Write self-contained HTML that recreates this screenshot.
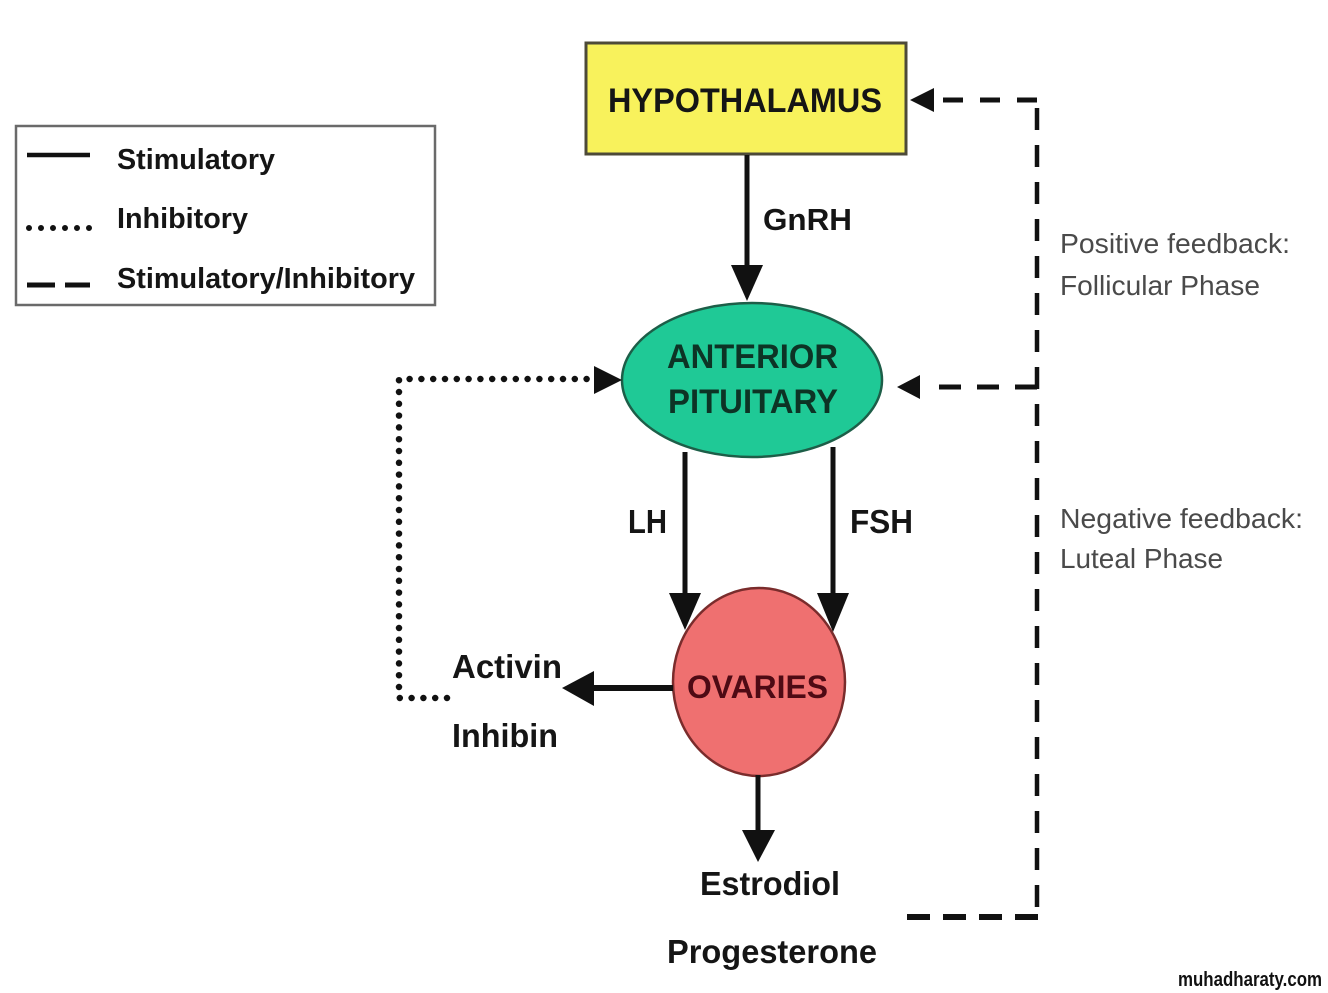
<!DOCTYPE html>
<html>
<head>
<meta charset="utf-8">
<style>
  html,body{margin:0;padding:0;background:#fff;}
  svg{display:block;}
  .b{font-family:"Liberation Sans",Arial,sans-serif;font-weight:bold;fill:#151515;}
  .r{font-family:"Liberation Sans",Arial,sans-serif;font-weight:normal;fill:#4a4a4a;}
</style>
</head>
<body>
<svg width="1328" height="993" viewBox="0 0 1328 993" xmlns="http://www.w3.org/2000/svg">
  <rect x="0" y="0" width="1328" height="993" fill="#ffffff"/>

  <!-- Legend -->
  <rect x="16" y="126" width="419" height="179" fill="#fff" stroke="#6a6a6a" stroke-width="2.5"/>
  <line x1="27" y1="155" x2="90" y2="155" stroke="#111" stroke-width="4.5"/>
  <line x1="29" y1="228" x2="90" y2="228" stroke="#111" stroke-width="6" stroke-linecap="round" stroke-dasharray="0 12"/>
  <line x1="27" y1="285" x2="55" y2="285" stroke="#111" stroke-width="5"/>
  <line x1="65" y1="285" x2="90" y2="285" stroke="#111" stroke-width="5"/>
  <text class="b" x="117" y="169" font-size="29" textLength="158" lengthAdjust="spacingAndGlyphs">Stimulatory</text>
  <text class="b" x="117" y="228" font-size="29" textLength="131" lengthAdjust="spacingAndGlyphs">Inhibitory</text>
  <text class="b" x="117" y="288" font-size="29" textLength="298" lengthAdjust="spacingAndGlyphs">Stimulatory/Inhibitory</text>

  <!-- Hypothalamus -->
  <rect x="586" y="43" width="320" height="111" fill="#f8f25c" stroke="#4d4a38" stroke-width="3"/>
  <text class="b" x="608" y="112" font-size="34" textLength="274" lengthAdjust="spacingAndGlyphs">HYPOTHALAMUS</text>

  <!-- GnRH arrow -->
  <line x1="747" y1="155" x2="747" y2="268" stroke="#111" stroke-width="5"/>
  <polygon points="731,265 763,265 747,301" fill="#111"/>
  <text class="b" x="763" y="230" font-size="31" textLength="89" lengthAdjust="spacingAndGlyphs">GnRH</text>

  <!-- Anterior pituitary -->
  <ellipse cx="752" cy="380" rx="130" ry="77" fill="#1fc996" stroke="#1d5e48" stroke-width="2.5"/>
  <text class="b" x="667" y="368" font-size="34" textLength="171" lengthAdjust="spacingAndGlyphs" style="fill:#0d3325">ANTERIOR</text>
  <text class="b" x="668" y="413" font-size="34" textLength="170" lengthAdjust="spacingAndGlyphs" style="fill:#0d3325">PITUITARY</text>

  <!-- LH / FSH arrows -->
  <line x1="685" y1="452" x2="685" y2="596" stroke="#111" stroke-width="5"/>
  <polygon points="669,593 701,593 685,630" fill="#111"/>
  <line x1="833" y1="447" x2="833" y2="596" stroke="#111" stroke-width="5"/>
  <polygon points="817,593 849,593 833,632" fill="#111"/>
  <text class="b" x="628" y="533" font-size="33" textLength="39" lengthAdjust="spacingAndGlyphs">LH</text>
  <text class="b" x="850" y="533" font-size="33" textLength="63" lengthAdjust="spacingAndGlyphs">FSH</text>

  <!-- Ovaries -->
  <ellipse cx="759" cy="682" rx="86" ry="94" fill="#ef7070" stroke="#7a2c2c" stroke-width="2.5"/>
  <text class="b" x="687" y="698" font-size="32" textLength="141" lengthAdjust="spacingAndGlyphs" style="fill:#4e0a14">OVARIES</text>

  <!-- Left arrow from ovaries -->
  <line x1="673" y1="688" x2="590" y2="688" stroke="#111" stroke-width="6"/>
  <polygon points="594,671 594,706 562,688" fill="#111"/>
  <text class="b" x="452" y="678" font-size="33" textLength="110" lengthAdjust="spacingAndGlyphs">Activin</text>
  <text class="b" x="452" y="747" font-size="33" textLength="106" lengthAdjust="spacingAndGlyphs">Inhibin</text>

  <!-- Down arrow from ovaries -->
  <line x1="758" y1="775" x2="758" y2="833" stroke="#111" stroke-width="5"/>
  <polygon points="742,830 775,830 758,862" fill="#111"/>
  <text class="b" x="700" y="895" font-size="33" textLength="140" lengthAdjust="spacingAndGlyphs">Estrodiol</text>
  <text class="b" x="667" y="963" font-size="33" textLength="210" lengthAdjust="spacingAndGlyphs">Progesterone</text>

  <!-- Dotted inhibitory feedback -->
  <polyline points="447,698 399,698 399,379 594,379" fill="none" stroke="#111" stroke-width="6.5" stroke-linecap="round" stroke-dasharray="0 11.8"/>
  <polygon points="594,366 594,394 622,380" fill="#111"/>

  <!-- Dashed feedback loop -->
  <line x1="1037" y1="100" x2="1037" y2="917" stroke="#111" stroke-width="4.5" stroke-dasharray="22 15" stroke-dashoffset="-8"/>
  <line x1="1037" y1="100" x2="940" y2="100" stroke="#111" stroke-width="5" stroke-dasharray="20 17"/>
  <polygon points="910,100 934,88 934,112" fill="#111"/>
  <line x1="1037" y1="387" x2="925" y2="387" stroke="#111" stroke-width="5" stroke-dasharray="22 16"/>
  <polygon points="897,387 920,375 920,399" fill="#111"/>
  <line x1="1038" y1="917" x2="906" y2="917" stroke="#111" stroke-width="6" stroke-dasharray="23 13"/>

  <!-- Right-side labels -->
  <text class="r" x="1060" y="253" font-size="28" textLength="230" lengthAdjust="spacingAndGlyphs">Positive feedback:</text>
  <text class="r" x="1060" y="295" font-size="28" textLength="200" lengthAdjust="spacingAndGlyphs">Follicular Phase</text>
  <text class="r" x="1060" y="528" font-size="28" textLength="243" lengthAdjust="spacingAndGlyphs">Negative feedback:</text>
  <text class="r" x="1060" y="568" font-size="28" textLength="163" lengthAdjust="spacingAndGlyphs">Luteal Phase</text>

  <!-- Watermark -->
  <text class="b" x="1178" y="986" font-size="20" textLength="144" lengthAdjust="spacingAndGlyphs" style="fill:#111">muhadharaty.com</text>
</svg>
</body>
</html>
